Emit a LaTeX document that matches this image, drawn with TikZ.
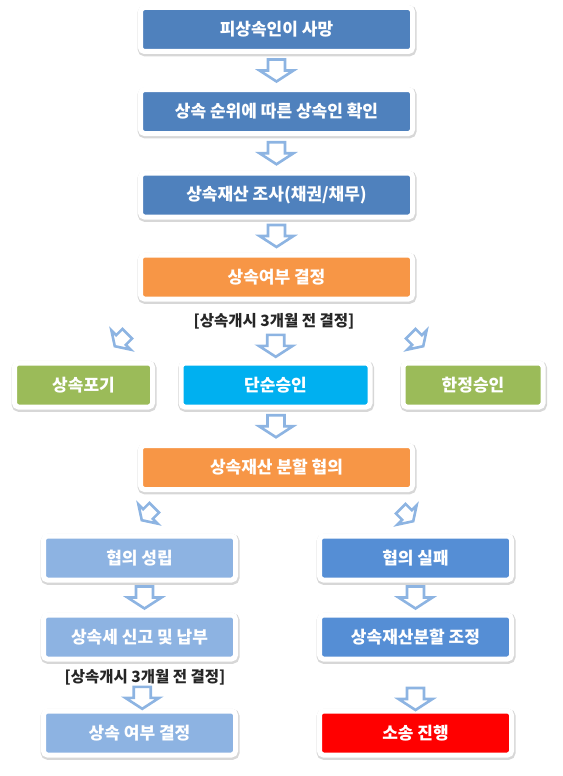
\documentclass[tikz,border=0pt]{standalone}
\usepackage{fontspec}
\setmainfont{Noto Sans CJK KR}
\usetikzlibrary{shadows,calc}
\definecolor{stepblue}{HTML}{4F81BD}
\definecolor{steporange}{HTML}{F79646}
\definecolor{stepgreen}{HTML}{9BBB59}
\definecolor{stepcyan}{HTML}{00B0F0}
\definecolor{steplight}{HTML}{8DB3E2}
\definecolor{stepmid}{HTML}{558ED5}
\definecolor{stepred}{HTML}{FF0000}
\definecolor{arrowblue}{HTML}{8DB4E2}
\tikzset{
flowbox/.style={draw=white, line width=5pt, rounded corners=4pt, text=white,
  font=\bfseries\fontsize{17}{20}\selectfont, minimum height=44pt, inner sep=0pt,
  drop shadow={shadow xshift=0.6pt, shadow yshift=-1.4pt, opacity=0.35,
    fill=black!45, draw=black!45, line width=7pt}},
wide/.style={minimum width=272pt},
side/.style={minimum width=192pt},
notetext/.style={font=\bfseries\fontsize{15.5}{18}\selectfont, text=black!85, inner sep=0pt},
arrowline/.style={draw=arrowblue, line width=2.6pt, fill=white, line join=miter},
downarrow/.pic={
  \path[arrowline] (-8.5,-11) -- (8.5,-11) -- (8.5,0) -- (17,0) -- (0,11)
    -- (-17,0) -- (-8.5,0) -- cycle;
},
}
\begin{document}
\begin{tikzpicture}[x=1pt, y=-1pt]
    \useasboundingbox (0,0) rectangle (562,776);
    % main column
    \node[flowbox, wide, fill=stepblue] (death) at (276.5,29.5) {피상속인이 사망};
    \node[flowbox, wide, fill=stepblue] (heirs) at (276.5,111.5) {상속 순위에 따른 상속인 확인};
    \node[flowbox, wide, fill=stepblue] (assets) at (276.5,195) {상속재산 조사(채권/채무)};
    \node[flowbox, wide, fill=steporange] (decide) at (276.5,277) {상속여부 결정};
    \node[notetext] (note1) at (274,321) {[상속개시 3개월 전 결정]};

    % three choices
    \node[flowbox, minimum width=138pt, fill=stepgreen] (renounce) at (83.5,385) {상속포기};
    \node[flowbox, minimum width=189pt, fill=stepcyan] (simple) at (275.5,385) {단순승인};
    \node[flowbox, minimum width=140pt, fill=stepgreen] (limited) at (473,385) {한정승인};

    \node[flowbox, wide, fill=steporange] (split) at (276.5,467.5) {상속재산 분할 협의};

    % left branch
    \node[flowbox, side, fill=steplight] (agree) at (139.5,558) {협의 성립};
    \node[flowbox, side, fill=steplight] (taxes) at (139.5,637) {상속세 신고 및 납부};
    \node[notetext] (note2) at (145,677) {[상속개시 3개월 전 결정]};
    \node[flowbox, side, fill=steplight] (final) at (139.5,733) {상속 여부 결정};

    % right branch
    \node[flowbox, side, fill=stepmid] (fail) at (415.5,558) {협의 실패};
    \node[flowbox, side, fill=stepmid] (mediate) at (415.5,637) {상속재산분할 조정};
    \node[flowbox, side, fill=stepred] (lawsuit) at (415.5,733) {소송 진행};

    % block arrows
    \pic at ($(death.south)!0.5!(heirs.north)$) {downarrow};
    \pic at ($(heirs.south)!0.5!(assets.north)$) {downarrow};
    \pic at ($(assets.south)!0.5!(decide.north)$) {downarrow};
    \pic at ($(note1.south)!0.5!(simple.north)+(1,1)$) {downarrow};
    \pic[rotate=-45, scale=0.8] at (121,340) {downarrow};
    \pic[rotate=45, scale=0.8] at (417,340) {downarrow};
    \pic at ($(simple.south)!0.5!(split.north)$) {downarrow};
    \pic[rotate=-45, scale=0.8] at (148,514) {downarrow};
    \pic[rotate=45, scale=0.8] at (407,515) {downarrow};
    \pic at ($(agree.south)!0.5!(taxes.north)+(5,0)$) {downarrow};
    \pic at ($(fail.south)!0.5!(mediate.north)$) {downarrow};
    \pic at ($(note2.south)!0.5!(final.north)+(0,1)$) {downarrow};
    \pic at ($(mediate.south)!0.5!(lawsuit.north)+(0,14)$) {downarrow};
\end{tikzpicture}
\end{document}
